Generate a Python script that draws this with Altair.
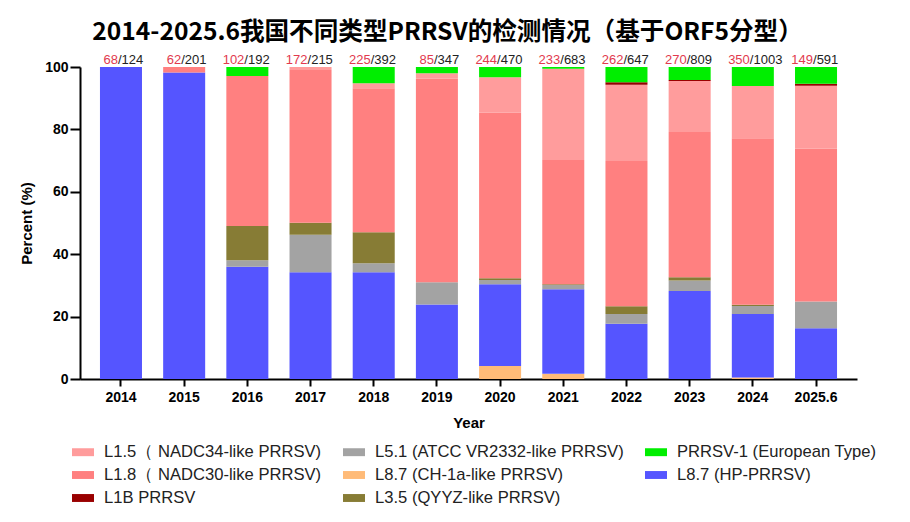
import altair as alt
import pandas as pd

years = ["2014", "2015", "2016", "2017", "2018", "2019", "2020", "2021", "2022", "2023", "2024", "2025.6"]
positives = [68, 62, 102, 172, 225, 85, 244, 233, 262, 270, 350, 149]
totals = [124, 201, 192, 215, 392, 347, 470, 683, 647, 809, 1003, 591]

# percent of each genotype per year
ch1a = [0, 0, 0, 0, 0, 0, 4.2, 1.7, 0, 0, 0.5, 0]
hp = [100, 98.2, 36.0, 34.2, 34.2, 23.9, 26.2, 27.1, 17.7, 28.2, 20.3, 16.3]
l51 = [0, 0, 2.1, 12.0, 2.9, 7.1, 1.3, 1.3, 3.1, 3.4, 2.6, 8.5]
l35 = [0, 0, 10.9, 3.9, 9.9, 0, 0.6, 0.3, 2.5, 1.0, 0.4, 0]
l18 = [0, 1.8, 48.1, 48.9, 46.2, 65.2, 53.1, 39.8, 46.6, 46.6, 53.4, 49.1]
l15 = [0, 0, 0, 1.0, 1.6, 1.8, 11.3, 29.2, 24.4, 16.3, 16.7, 20.1]
l1b = [0, 0, 0, 0, 0, 0, 0, 0, 0.8, 0.3, 0, 0.6]
prrsv1 = [0, 0, 2.9, 0, 5.2, 2.0, 3.3, 0.6, 4.9, 4.2, 6.1, 5.4]

N_L15 = "L1.5（ NADC34-like PRRSV)"
N_L51 = "L5.1 (ATCC VR2332-like PRRSV)"
N_P1 = "PRRSV-1 (European Type)"
N_L18 = "L1.8（ NADC30-like PRRSV)"
N_CH = "L8.7 (CH-1a-like PRRSV)"
N_HP = "L8.7 (HP-PRRSV)"
N_L1B = "L1B PRRSV"
N_L35 = "L3.5 (QYYZ-like PRRSV)"

# legend order (filled column by column, 3 rows)
legend_order = [N_L15, N_L18, N_L1B, N_L51, N_CH, N_L35, N_P1, N_HP]
legend_colors = ["#FF9C9C", "#FF8080", "#990000", "#A3A3A3", "#FFBB78", "#877C35", "#00EE00", "#5555FF"]

# stacking order, bottom to top
stack_series = [(N_CH, ch1a), (N_HP, hp), (N_L51, l51), (N_L35, l35),
                (N_L18, l18), (N_L15, l15), (N_L1B, l1b), (N_P1, prrsv1)]

rows = []
for k, (name, vals) in enumerate(stack_series):
    for y, v in zip(years, vals):
        if v > 0:
            rows.append({"year": y, "genotype": name, "value": v, "stack": k})
df = pd.DataFrame(rows)

lab = pd.DataFrame({
    "year": years,
    "pos": [str(p) for p in positives],
    "tot": ["/" + str(t) for t in totals],
})

FONT = "Liberation Sans"

xenc = alt.X("year:N", sort=years,
             scale=alt.Scale(paddingInner=0.335, paddingOuter=0.316),
             axis=alt.Axis(title="Year", labelAngle=0, labelPadding=4, titlePadding=11,
                           tickSize=7))

bars = alt.Chart(df).mark_bar().encode(
    x=xenc,
    y=alt.Y("value:Q", stack="zero",
            scale=alt.Scale(domain=[0, 100], nice=False),
            axis=alt.Axis(title="Percent (%)", values=[0, 20, 40, 60, 80, 100],
                          tickSize=10, labelPadding=2, titlePadding=10)),
    color=alt.Color("genotype:N",
                    scale=alt.Scale(domain=legend_order, range=legend_colors),
                    legend=alt.Legend(title=None, orient="none", legendX=-8, legendY=374,
                                      columns=3, symbolType="M-1,-0.36H1V0.36H-1Z",
                                      symbolSize=484, symbolStrokeWidth=0, symbolOpacity=1,
                                      labelFont=FONT, labelFontSize=16.6, labelColor="#222222",
                                      labelOffset=10, labelLimit=400, columnPadding=21,
                                      rowPadding=3, padding=0)),
    order=alt.Order("stack:Q", sort="ascending"),
)

red = alt.Chart(lab).mark_text(align="right", baseline="alphabetic", dx=-3, dy=-3,
                               color="#E23A4E", fontSize=13, font=FONT).encode(
    x=alt.X("year:N", sort=years), y=alt.datum(100), text="pos:N")
black = alt.Chart(lab).mark_text(align="left", baseline="alphabetic", dx=-3, dy=-3,
                                 color="#222222", fontSize=13, font=FONT).encode(
    x=alt.X("year:N", sort=years), y=alt.datum(100), text="tot:N")

chart = alt.layer(bars, red, black).properties(
    width=777, height=312,
    title=alt.TitleParams(text="2014-2025.6我国不同类型PRRSV的检测情况（基于ORF5分型）",
                          font="Noto Sans CJK SC", fontSize=24.6, fontWeight="bold",
                          color="black", anchor="middle", dx=-21, dy=33,
                          baseline="alphabetic", offset=22),
    autosize=alt.AutoSizeParams(type="none"),
    padding={"left": 72, "top": 59, "right": 45, "bottom": 135},
    background="white",
).configure_view(stroke=None).configure_axis(
    domainColor="black", domainWidth=2, tickColor="black", tickWidth=2,
    labelFont=FONT, labelFontSize=14, labelFontWeight="bold", labelColor="black",
    titleFont=FONT, titleFontSize=15, titleFontWeight="bold", titleColor="black",
    grid=False,
)

chart.save("out.html", embed_options={"renderer": "svg", "actions": False})
